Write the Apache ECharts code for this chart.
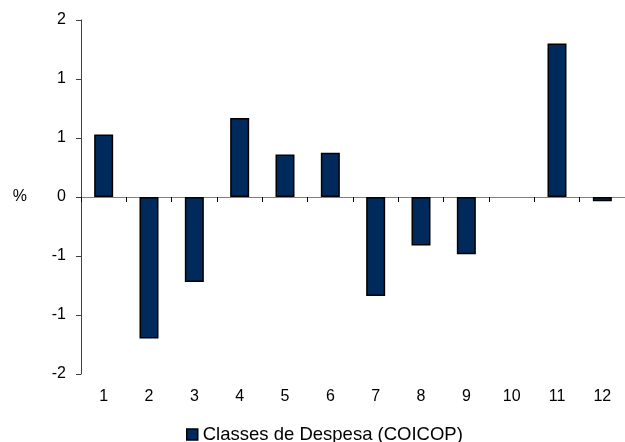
<!DOCTYPE html>
<html>
<head>
<meta charset="utf-8">
<script src="https://cdn.jsdelivr.net/npm/echarts@6/dist/echarts.min.js"></script>
<style>
  html, body { margin: 0; padding: 0; background: #fff; }
  #chart { width: 625px; height: 442px; }
</style>
</head>
<body>
<div id="chart"></div>
<script>
// categorias COICOP
var categories = ['1', '2', '3', '4', '5', '6', '7', '8', '9', '10', '11', '12'];
// variação (%)
var values = [0.53, -1.2, -0.72, 0.67, 0.36, 0.375, -0.84, -0.41, -0.485, 0, 1.3, -0.035];
// rótulos do eixo y (arredondados como no original)
var yTickLabels = ['-2', '-1', '-1', '0', '1', '1', '2'];
var seriesName = 'Classes de Despesa (COICOP)';

var font = 'Liberation Sans, Arial, sans-serif';

var chart = echarts.init(document.getElementById('chart'));

// barra a zero sem contorno (como no original)
var barData = values.map(function (v) {
  return v === 0 ? { value: v, itemStyle: { borderWidth: 0 } } : v;
});

var option = {
  animation: false,
  grid: {
    left: 81,
    width: 554,
    top: 20,
    bottom: 68
  },
  legend: {
    data: [seriesName],
    left: 181,
    top: 420,
    icon: 'rect',
    itemWidth: 11,
    itemHeight: 11,
    itemStyle: { borderColor: '#000', borderWidth: 1.5 },
    textStyle: { fontFamily: font, fontSize: 18.5, color: '#000' }
  },
  xAxis: [
    {
      // rótulos em baixo
      type: 'category',
      data: categories,
      position: 'bottom',
      axisLine: { show: false, onZero: false },
      axisTick: { show: false },
      axisLabel: { fontFamily: font, fontSize: 16, color: '#000', margin: 15 }
    },
    {
      // linha do zero com marcas
      type: 'category',
      data: categories,
      position: 'top',
      axisLine: { show: true, onZero: true, lineStyle: { color: '#808080', width: 1 } },
      axisTick: { show: true, inside: true, length: 5, lineStyle: { color: '#000' } },
      axisLabel: { show: false }
    }
  ],
  yAxis: {
    type: 'value',
    min: -1.5,
    max: 1.5,
    interval: 0.5,
    name: '%',
    nameLocation: 'middle',
    nameRotate: 0,
    nameGap: 54,
    nameTextStyle: { fontFamily: font, fontSize: 16, color: '#000' },
    splitLine: { show: false },
    axisLine: { show: true, lineStyle: { color: '#404040' } },
    axisTick: { show: true, length: 5, lineStyle: { color: '#404040' } },
    axisLabel: {
      fontFamily: font, fontSize: 16, color: '#000', margin: 15,
      formatter: function (v, i) { return yTickLabels[i]; }
    }
  },
  series: [
    {
      name: seriesName,
      type: 'bar',
      xAxisIndex: 0,
      data: barData,
      barWidth: 19,
      itemStyle: { color: '#002a5c', borderColor: '#000', borderWidth: 1.5 }
    }
  ]
};

chart.setOption(option);
</script>
</body>
</html>
